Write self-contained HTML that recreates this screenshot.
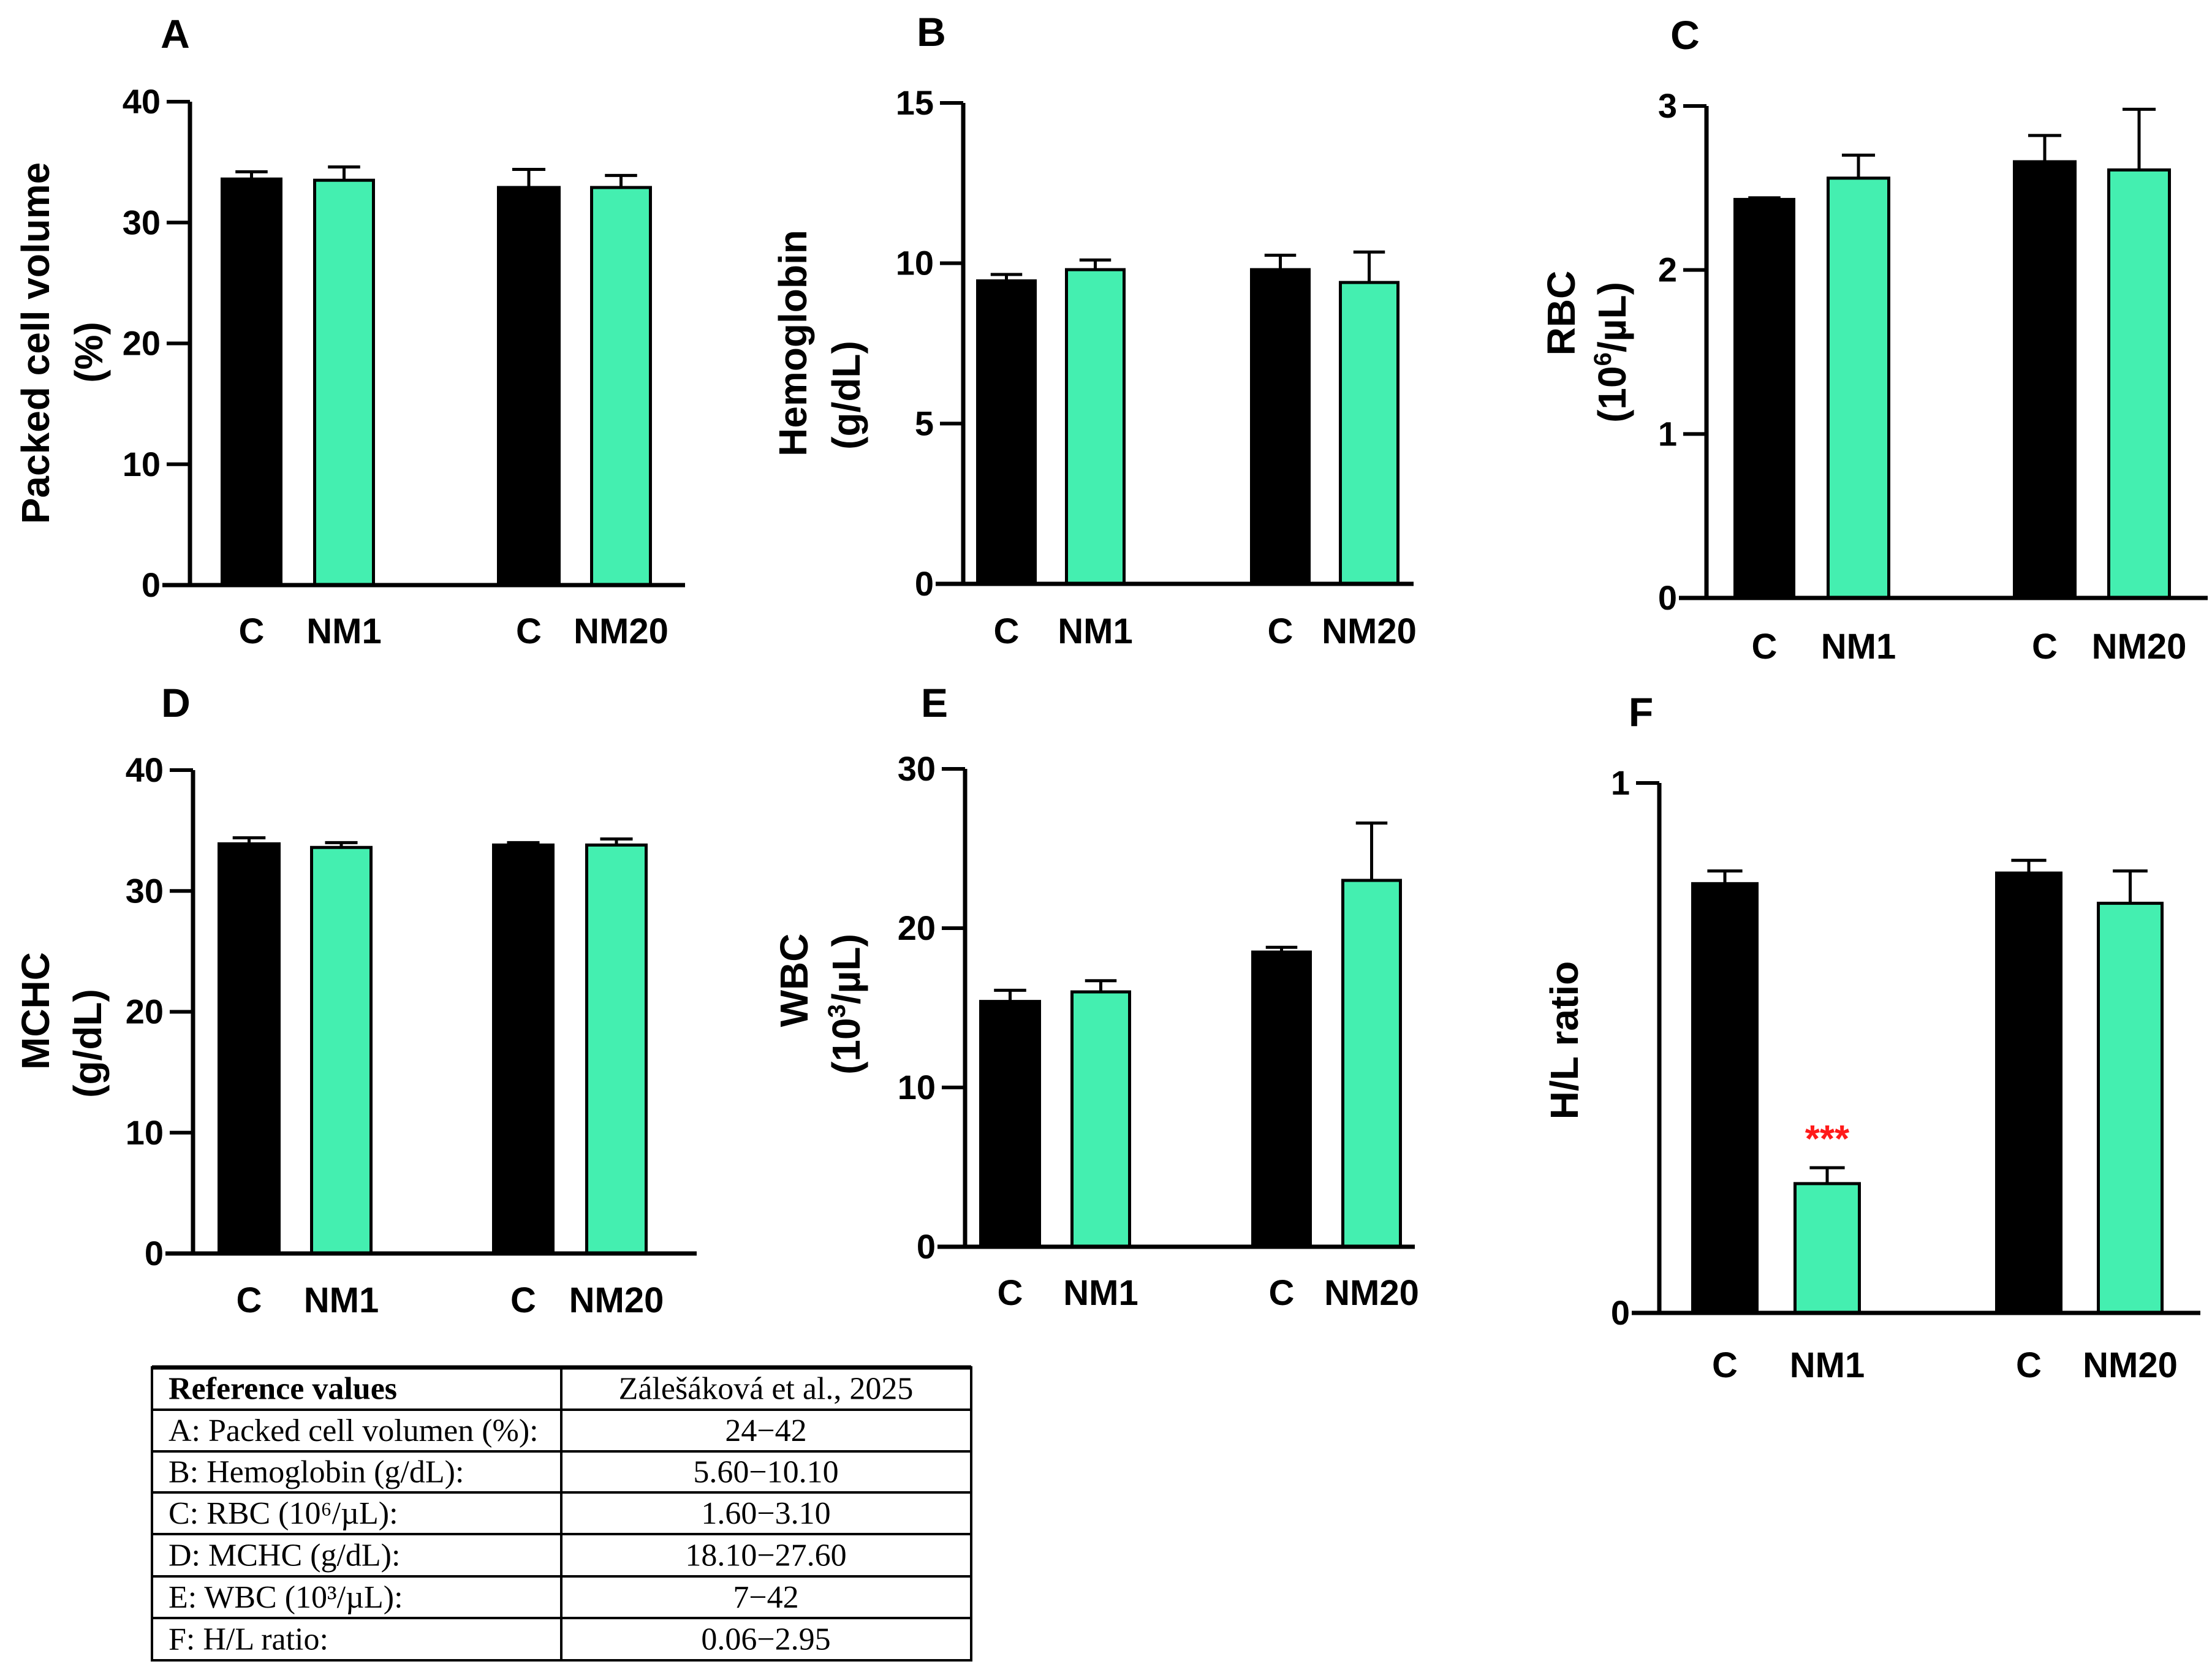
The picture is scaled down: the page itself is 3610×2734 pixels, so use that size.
<!DOCTYPE html>
<html><head><meta charset="utf-8"><style>
html,body{margin:0;padding:0;background:#fff}
svg{display:block}
text{font-family:"Liberation Sans",Arial,sans-serif;font-weight:bold;fill:#000}
.tb{font-family:"Liberation Serif",serif;font-weight:normal;font-size:52px}
</style></head><body>
<svg id="fig" width="3610" height="2734" viewBox="0 0 3610 2734"></svg>
<script>
const categories = ["C","NM1","C","NM20"];
const seriesA = [33.6,33.5,32.9,32.9];
const errA = [34.2,34.6,34.4,33.9];
const seriesB = [9.45,9.8,9.8,9.4];
const errB = [9.65,10.1,10.25,10.35];
const seriesC = [2.43,2.56,2.66,2.61];
const errC = [2.44,2.70,2.82,2.98];
const seriesD = [33.9,33.6,33.8,33.8];
const errD = [34.4,34.0,34.0,34.3];
const seriesE = [15.4,16.0,18.5,23.0];
const errE = [16.1,16.7,18.8,26.6];
const seriesF = [0.81,0.244,0.83,0.773];
const errF = [0.834,0.274,0.854,0.834];
const ticksA = [0,10,20,30,40];
const ticksB = [0,5,10,15];
const ticksC = [0,1,2,3];
const ticksD = [0,10,20,30,40];
const ticksE = [0,10,20,30];
const ticksF = [0,1];

const NS="http://www.w3.org/2000/svg";
const svg=document.getElementById('fig');
function mk(tag,attrs,parent){const e=document.createElementNS(NS,tag);for(const k in attrs)e.setAttribute(k,attrs[k]);(parent||svg).appendChild(e);return e;}

const panels=[
 {id:'a',letter:'A',lx:286,ly:78,ax:310,y0:955,y1:166,xe:1118,bars:[[360,461],[511,612],[811,915],[963,1064]],lab:1030,vals:seriesA,errs:errA,ticks:ticksA,title:[["Packed cell volume",58,560],["(%)",145,575]]},
 {id:'b',letter:'B',lx:1520,ly:75,ax:1572,y0:953,y1:168,xe:2307,bars:[[1593,1692],[1738,1837],[2040,2139],[2185,2284]],lab:1030,vals:seriesB,errs:errB,ticks:ticksB,title:[["Hemoglobin",1294,560],["(g/dL)",1381,645]]},
 {id:'c',letter:'C',lx:2750,ly:80,ax:2785,y0:976,y1:173,xe:3603,bars:[[2829,2930],[2981,3085],[3285,3389],[3439,3543]],lab:1055,vals:seriesC,errs:errC,ticks:ticksC,title:[["RBC",2548,511],["SUP6",2631,575]]},
 {id:'d',letter:'D',lx:287,ly:1170,ax:315,y0:2046,y1:1257,xe:1137,bars:[[355,458],[506,608],[803,905],[955,1057]],lab:2122,vals:seriesD,errs:errD,ticks:ticksD,title:[["MCHC",58,1650],["(g/dL)",143,1703]]},
 {id:'e',letter:'E',lx:1525,ly:1170,ax:1575,y0:2035,y1:1255,xe:2309,bars:[[1598,1699],[1747,1846],[2042,2141],[2189,2288]],lab:2110,vals:seriesE,errs:errE,ticks:ticksE,title:[["WBC",1296,1600],["SUP3",1381,1639]]},
 {id:'f',letter:'F',lx:2678,ly:1185,ax:2708,y0:2143,y1:1278,xe:3591,bars:[[2760,2870],[2927,3037],[3256,3366],[3422,3531]],lab:2228,vals:seriesF,errs:errF,ticks:ticksF,title:[["H/L ratio",2553,1698]]}
];

panels.forEach(p=>{
 const g=mk('g',{});
 
 
 const tmax=p.ticks[p.ticks.length-1];
 const y=v=>p.y0-(v/tmax)*(p.y0-p.y1);
 const L=mk('text',{x:p.lx,y:p.ly,'font-size':66,'text-anchor':'middle'},g);L.textContent=p.letter;
 
 
 p.vals.forEach((v,i)=>{
  const [x0,x1]=p.bars[i];const cx=(x0+x1)/2;const green=i%2===1;
  const eb=mk('path',{d:`M${cx} ${y(v)} V${y(p.errs[i])} M${cx-(x1-x0)*0.26} ${y(p.errs[i])} H${cx+(x1-x0)*0.26}`,stroke:'#000','stroke-width':5,fill:'none'},g);
  
  
  const r=mk('rect',{x:x0+2.5,y:y(v),width:x1-x0-5,height:p.y0-y(v),fill:green?'#44efb0':'#000',stroke:'#000','stroke-width':5},g);
  
  
  const t=mk('text',{x:cx,y:p.lab+20,'font-size':58,'text-anchor':'middle'},g);t.textContent=categories[i];
  
  
 });
 const ax=mk('path',{d:`M${p.ax} ${p.y1} V${p.y0} M${p.ax-45} ${p.y0} H${p.xe}`,stroke:'#000','stroke-width':7,fill:'none'},g);
 
 
 p.ticks.forEach(tv=>{
  mk('path',{d:`M${p.ax-38} ${y(tv)} H${p.ax}`,stroke:'#000','stroke-width':6},g);
  const t=mk('text',{x:p.ax-48,y:y(tv)+19,'font-size':56,'text-anchor':'end'},g);t.textContent=tv;
  
  
 });
 p.title.forEach(([s,x,yy])=>{
  const t=mk('text',{x:x,y:yy,'font-size':64,'text-anchor':'middle',transform:`rotate(-90 ${x} ${yy})`,dy:22},g);
  if(s.startsWith('SUP')){
   t.appendChild(document.createTextNode('(10'));
   const ts=mk('tspan',{'font-size':40,dy:-24},t);ts.textContent=s.slice(3);
   const t2=mk('tspan',{dy:24},t);t2.textContent='/\u00b5L)';
  } else t.textContent=s;
  
  
 });
 if(p.id==='f'){
  const st=mk('text',{x:2982,y:1880,'font-size':62,'text-anchor':'middle',style:'fill:#ff1a1a'},g);st.textContent='***';
  
  
 }
});

// table
const rows=[["Reference values","Zálešáková et al., 2025"],["A: Packed cell volumen (%):","24\u221242"],["B: Hemoglobin (g/dL):","5.60\u221210.10"],["C: RBC (10\u2076/\u00b5L):","1.60\u22123.10"],["D: MCHC (g/dL):","18.10\u221227.60"],["E: WBC (10\u00b3/\u00b5L):","7\u221242"],["F: H/L ratio:","0.06\u22122.95"]];
const tg=mk('g',{});


const ty=[2232,2301,2369,2436,2504,2573,2641,2710];
mk('rect',{x:248,y:2232,width:1337,height:478,fill:'none',stroke:'#000','stroke-width':4},tg);
mk('path',{d:'M248 2232 H1585',stroke:'#000','stroke-width':7},tg);
mk('path',{d:'M916 2232 V2710',stroke:'#000','stroke-width':4},tg);
for(let i=1;i<7;i++)mk('path',{d:`M248 ${ty[i]} H1585`,stroke:'#000','stroke-width':4},tg);
rows.forEach((r,i)=>{
 const yy=(ty[i]+ty[i+1])/2+17;
 const a=mk('text',{x:275,y:yy,class:'tb',style:i===0?'font-weight:bold':''},tg);a.textContent=r[0];
 
 
 const b=mk('text',{x:1250,y:yy,class:'tb','text-anchor':'middle'},tg);b.textContent=r[1];
 
 
});
</script>
</body></html>
